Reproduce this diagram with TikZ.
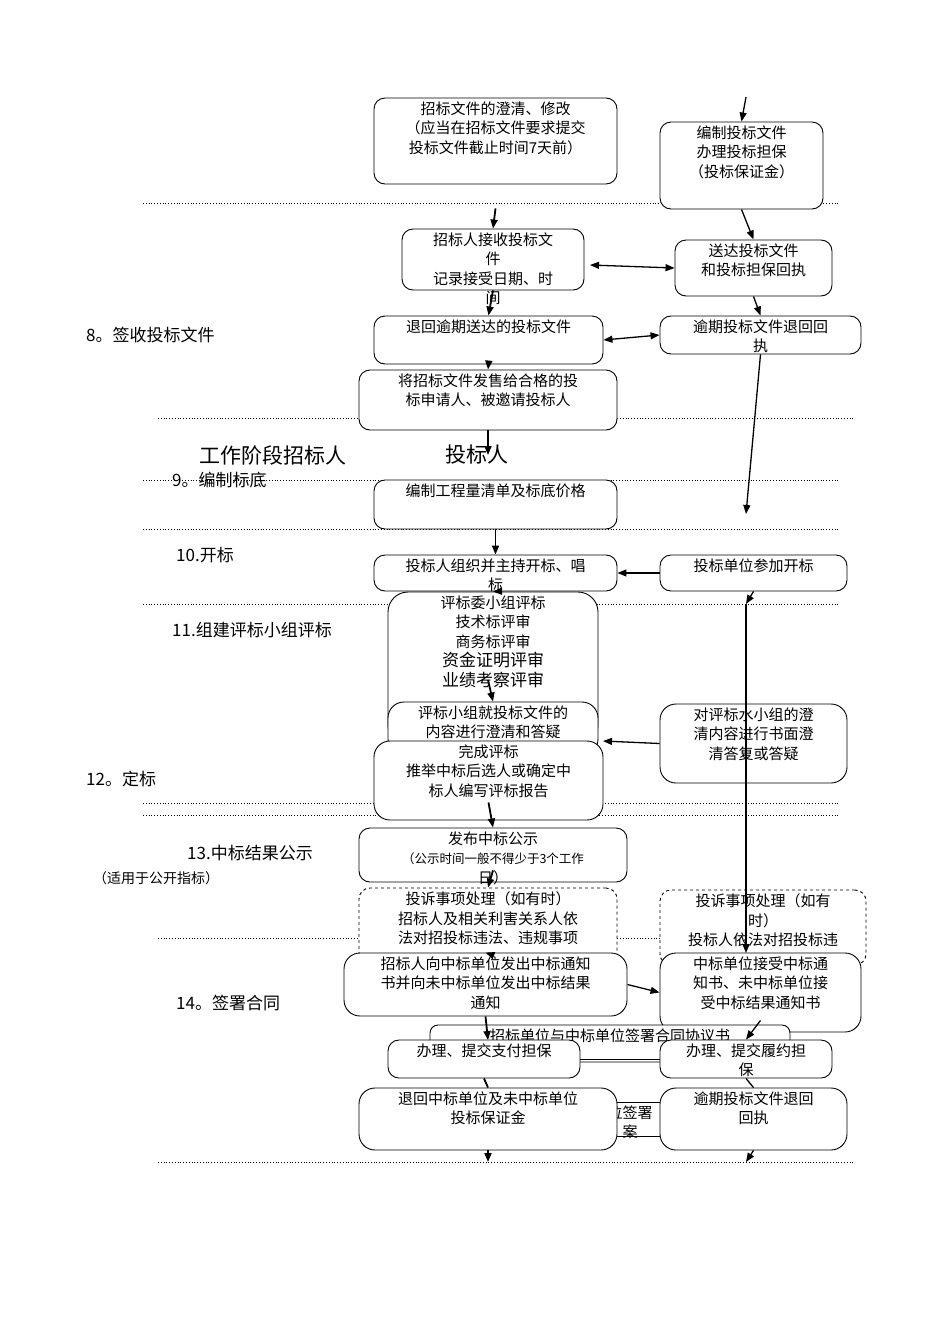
\documentclass[tikz,border=0pt]{standalone}
\usepackage{fontspec}
\setmainfont{Noto Sans CJK SC}
\usetikzlibrary{fit,arrows.meta}
\newcommand\bx[7][]{%
  \path (#3,#4) coordinate (#2-nw) (#5,#6) coordinate (#2-se);
  \node[fit=(#2-nw)(#2-se),inner sep=0pt,draw,fill=white,rounded corners=11pt,line width=0.9pt,#1] (#2) {};
  \node[txt,anchor=north] at ([yshift=-4pt]#2.north) {#7};}
\begin{document}
\begin{tikzpicture}[x=1pt,y=-1pt,
  txt/.style={font=\fontsize{15}{19.5}\selectfont,align=center,inner sep=0pt},
  sm/.style={font=\fontsize{12.5}{16}\selectfont},
  lbl/.style={font=\fontsize{17}{20}\selectfont,anchor=west,inner sep=0pt},
  sep/.style={dotted,line width=0.8pt},
  arr/.style={line width=1.8pt,-{Triangle[length=9pt,width=7pt]}},
  rarr/.style={line width=1.3pt,-{Triangle[length=9pt,width=7pt]}},
  harr/.style={line width=1.3pt,-{Triangle[length=9pt,width=7pt]}},
  darr/.style={line width=1.3pt,{Triangle[length=9pt,width=7pt]}-{Triangle[length=9pt,width=7pt]}}]
\useasboundingbox (0,0) rectangle (950,1344);
% separators
\foreach \y in {203,480,529,604,803,815} \draw[sep] (143,\y) -- (840,\y);
\foreach \y in {418,938,1162} \draw[sep] (158,\y) -- (855,\y);
% labels
\node[lbl] (l8) at (86,335) {8。签收投标文件};
\node[lbl,font=\fontsize{21}{24}\selectfont] (lw) at (199,455) {工作阶段招标人};
\node[lbl,font=\fontsize{21}{24}\selectfont] (lt) at (445,455) {投标人};
\node[lbl] (l9) at (172,480) {9。编制标底};
\node[lbl] (l10) at (176,555) {10.开标};
\node[lbl] (l11) at (172,630) {11.组建评标小组评标};
\node[lbl] (l12) at (86,779) {12。定标};
\node[lbl] (l13) at (187,853) {13.中标结果公示};
\node[lbl,font=\fontsize{14}{16}\selectfont] (l13b) at (93,878) {（适用于公开指标）};
\node[lbl] (l14) at (176,1003) {14。签署合同};
% left column
\bx{A}{374}{98}{617}{184}{招标文件的澄清、修改\\（应当在招标文件要求提交\\投标文件截止时间7天前）}
\bx{B}{402}{229}{584}{290}{招标人接收投标文\\件\\记录接受日期、时\\间}
\bx{C}{374}{316}{603}{364}{退回逾期送达的投标文件}
\bx{D}{359}{370}{617}{430}{将招标文件发售给合格的投\\标申请人、被邀请投标人}
\bx{E}{374}{480}{617}{529}{编制工程量清单及标底价格}
\bx{F}{374}{555}{617}{591}{投标人组织并主持开标、唱\\标}
\bx[rounded corners=20pt]{G}{388}{592}{598}{745}{评标委小组评标\\技术标评审\\商务标评审\\{\fontsize{17}{21}\selectfont 资金证明评审}\\{\fontsize{17}{21}\selectfont 业绩考察评审}}
\bx[rounded corners=16pt]{H}{388}{702}{598}{755}{评标小组就投标文件的\\内容进行澄清和答疑}
\bx[rounded corners=16pt]{I}{374}{741}{603}{820}{完成评标\\推举中标后选人或确定中\\标人编写评标报告}
\bx{J}{359}{828}{627}{882}{发布中标公示\\{\fontsize{12.5}{16}\selectfont（公示时间一般不得少于3个工作}\\日）}
\bx[dashed]{K}{359}{888}{617}{965}{投诉事项处理（如有时）\\招标人及相关利害关系人依\\法对招投标违法、违规事项}
% right column
\bx{R1}{660}{122}{823}{209}{编制投标文件\\办理投标担保\\（投标保证金）}
\bx{R2}{675}{240}{832}{296}{送达投标文件\\和投标担保回执}
\bx{R3}{660}{316}{861}{354}{逾期投标文件退回回\\执}
\bx{R4}{660}{555}{847}{591}{投标单位参加开标}
\bx[rounded corners=16pt]{R5}{660}{704}{847}{783}{对评标水小组的澄\\清内容进行书面澄\\清答复或答疑}
\bx[dashed]{R6}{660}{890}{866}{965}{投诉事项处理（如有\\时）\\投标人依法对招投标违}
\bx[rounded corners=16pt]{L}{344}{953}{627}{1016}{招标人向中标单位发出中标通知\\书并向未中标单位发出中标结果\\通知}
\bx[rounded corners=16pt]{R7}{660}{953}{861}{1032}{中标单位接受中标通\\知书、未中标单位接\\受中标结果通知书}
\bx[rounded corners=8pt]{M}{430}{1025}{790}{1062}{招标单位与中标单位签署合同协议书}
\bx[rounded corners=0pt]{O}{560}{1102}{700}{1136}{位签署\\案}
\bx{N}{388}{1040}{580}{1078}{办理、提交支付担保}
\bx{R8}{660}{1040}{832}{1078}{办理、提交履约担\\保}
\bx[rounded corners=16pt]{P}{359}{1088}{617}{1150}{退回中标单位及未中标单位\\投标保证金}
\bx[rounded corners=16pt]{R9}{660}{1088}{847}{1150}{逾期投标文件退回\\回执}
% connectors
\coordinate (top) at (746,97);
\coordinate (dEnd) at (488,455);
\coordinate (lEnd) at (488,1162);
\coordinate (rEnd) at (746,1162);
\draw[arr] ([yshift=-24pt]A.south) -- (B.north);
\draw[arr] (B.south) -- (C.north);
\draw[arr] (C.south) -- (D.north);
\draw[arr] (D.south) -- (dEnd);
\draw[arr] (E.south) -- (F.north);
\draw[arr] (F.south) -- (G.north);
\draw[arr] (488,680) -- (H.north);
\draw[arr] ([yshift=18pt]I.south) -- (J.north);
\draw[arr] ([yshift=12pt]J.south) -- (K.north);
\draw[arr] ([yshift=12pt]K.south) -- (L.north);
\draw[arr] (L.south) -- (488,1040);
\draw[line width=1.8pt] (N.south) -- (P.north);
\draw[arr] (P.south) -- (lEnd);
\draw[rarr] (top) -- (R1.north);
\draw[rarr] (R1.south) -- (R2.north);
\draw[rarr] (R2.south) -- (R3.north);
\draw[rarr] (R3.south) -- (746,514);
\draw[rarr] (R4.south) -- (746,604);
\draw[rarr] (746,604) -- (746,953);
\draw[rarr] ([yshift=12pt]R7.south) -- (R8.north);
\draw[line width=1.3pt] (R8.south) -- (R9.north);
\draw[rarr] (R9.south) -- (rEnd);
\draw[darr] (590,265) -- (R2.west);
\draw[darr] (C.east) -- (R3.west);
\draw[harr] (R4.west) -- (F.east);
\draw[harr] (R5.west) -- (603,741);
\draw[harr] (L.east) -- (R7.west);
\draw[line width=0.9pt] (N.east) -- (R8.west);
\end{tikzpicture}
\end{document}
